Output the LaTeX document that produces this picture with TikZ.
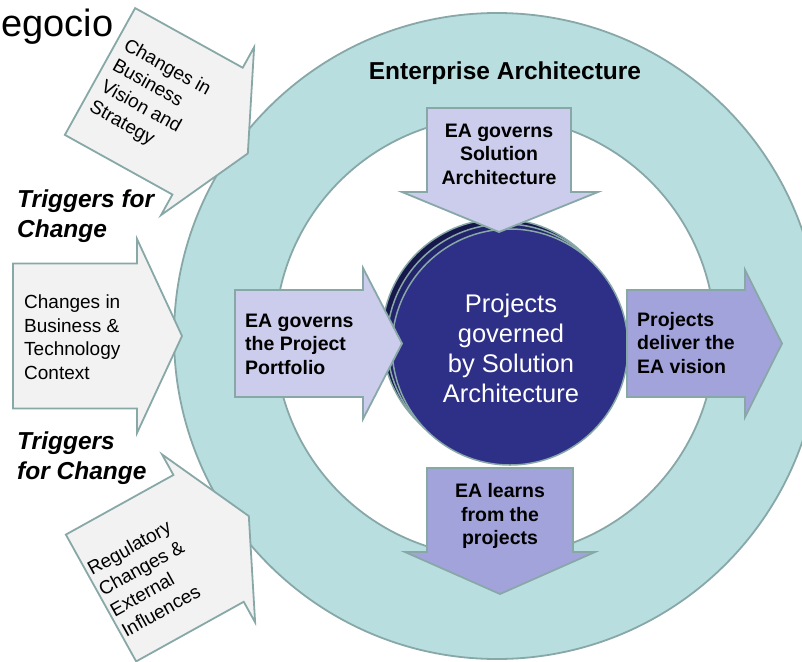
\documentclass[tikz,border=0pt]{standalone}
\usepackage{fontspec}
\setmainfont{Liberation Sans}
\definecolor{ringfill}{HTML}{B8DEE0}
\definecolor{edgegray}{HTML}{88A8A8}
\definecolor{trigfill}{HTML}{F2F2F2}
\definecolor{lavlight}{HTML}{CCCCEC}
\definecolor{lavdark}{HTML}{A3A3DC}
\definecolor{projfront}{HTML}{2E3087}
\definecolor{projmid}{HTML}{23256C}
\definecolor{projback}{HTML}{16174A}
\tikzset{
  edge/.style={draw=edgegray, line width=1.8pt, line join=miter},
  trigarrow/.style={edge, fill=trigfill},
  lavlightarrow/.style={edge, fill=lavlight},
  lavdarkarrow/.style={edge, fill=lavdark},
  projdisc/.style={draw=edgegray, line width=1.5pt},
  trigtext/.style={font=\fontsize{19}{23.5}\selectfont, align=left, inner sep=0pt},
  boldtext/.style={font=\fontsize{19.5}{23.5}\selectfont\bfseries, inner sep=0pt},
  headtext/.style={font=\fontsize{24.5}{30}\selectfont\bfseries\itshape, align=left, inner sep=0pt},
}
\begin{document}
\begin{tikzpicture}[x=1pt,y=-1pt]
\clip (0,0) rectangle (802,661);
\fill[white] (0,0) rectangle (802,661);
% ring
\draw[edge, fill=ringfill] (497,336) circle (323pt);
\draw[edge, fill=white] (495,337) circle (220pt);
% trigger arrows
\begin{scope}[shift={(13,336)}]
\draw[trigarrow] (0,-72.5) -- (124,-72.5) -- (124,-97) -- (169,0) -- (124,97) -- (124,72.5) -- (0,72.5) -- cycle;
\end{scope}
\begin{scope}[shift={(100,71.5)}, rotate=-29]
\draw[trigarrow] (0,-72.5) -- (123,-72.5) -- (123,-96) -- (169,0) -- (123,96) -- (123,72.5) -- (0,72.5) -- cycle;
\end{scope}
\begin{scope}[shift={(101,598)}, rotate=29]
\draw[trigarrow] (0,-72.5) -- (123,-72.5) -- (123,-96) -- (169,0) -- (123,96) -- (123,72.5) -- (0,72.5) -- cycle;
\end{scope}
% projects discs
\draw[projdisc, fill=projback] (500,337) circle (118pt);
\draw[projdisc, fill=projmid] (505,342) circle (118pt);
\draw[projdisc, fill=projfront] (510,347) circle (118pt);
% lavender arrows
\draw[lavlightarrow] (427,108) -- (571,108) -- (571,192) -- (598,192) -- (499,232) -- (402,192) -- (427,192) -- cycle;
\draw[lavlightarrow] (235,290) -- (363,290) -- (363,268) -- (402,343.5) -- (363,419) -- (363,397) -- (235,397) -- cycle;
\draw[lavdarkarrow] (627,290) -- (745,290) -- (745,270) -- (782,343.5) -- (745,417) -- (745,397) -- (627,397) -- cycle;
\draw[lavdarkarrow] (427,468) -- (573,468) -- (573,552) -- (595,552) -- (500,594) -- (405,552) -- (427,552) -- cycle;
% texts
\node[anchor=base west, inner sep=0pt, font=\fontsize{38}{38}\selectfont] (neg) at (1,37) {egocio};
\node[font=\fontsize{24.5}{28}\selectfont\bfseries, inner sep=0pt] (ea) at (505,73) {Enterprise Architecture};
\node[headtext, anchor=west] (trig1) at (17,216) {Triggers for\\Change};
\node[headtext, anchor=west] (trig2) at (17,458) {Triggers\\for Change};
\node[trigtext, anchor=west] (ctx) at (24,337) {Changes in\\Business \&\\Technology\\Context};
\node[trigtext, rotate=-29] (vis) at (150,99) {Changes in\\Business\\Vision and\\Strategy};
\node[trigtext, rotate=29] (reg) at (147,578) {Regulatory\\Changes \&\\External\\Influences};
\node[boldtext, align=center] (gsa) at (499,154) {EA governs\\Solution\\Architecture};
\node[boldtext, align=left, anchor=west] (gpp) at (245,344) {EA governs\\the Project\\Portfolio};
\node[boldtext, align=left, anchor=west] (dev) at (637,343) {Projects\\deliver the\\EA vision};
\node[boldtext, align=center] (learn) at (500,516) {EA learns\\from the\\projects};
\node[font=\fontsize{25.5}{30}\selectfont, align=center, text=white, inner sep=0pt] (proj) at (511,348) {Projects\\governed\\by Solution\\Architecture};
\end{tikzpicture}
\end{document}
